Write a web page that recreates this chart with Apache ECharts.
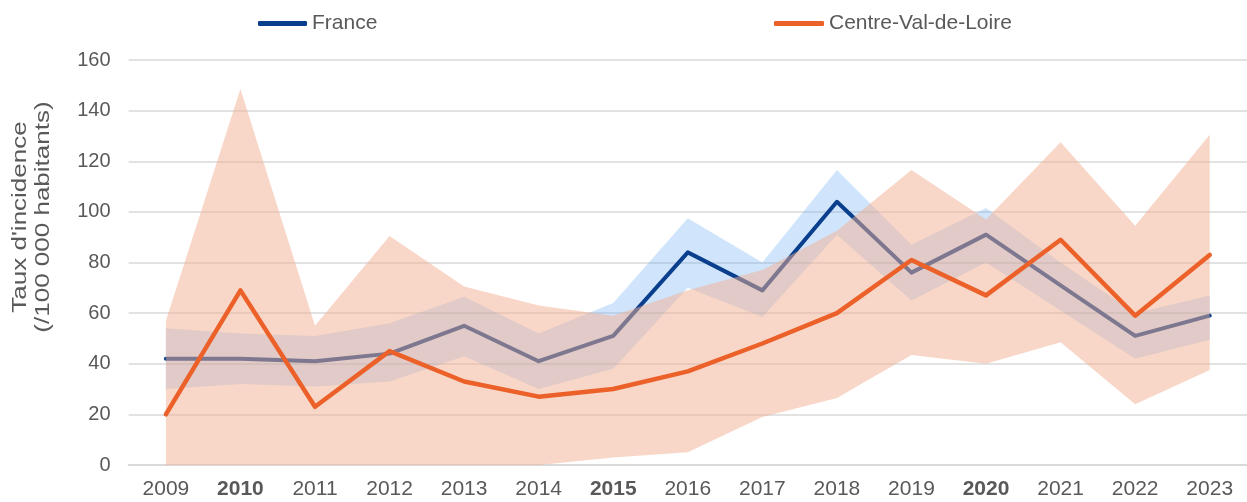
<!DOCTYPE html>
<html><head><meta charset="utf-8">
<script src="https://cdn.jsdelivr.net/npm/echarts@6/dist/echarts.min.js"></script>
<style>html,body{margin:0;padding:0;background:#fff}#c{width:1247px;height:502px}</style>
</head><body><div id="c"></div>
<script>
const years = ['2009','2010','2011','2012','2013','2014','2015','2016','2017','2018','2019','2020','2021','2022','2023'];
const boldYears = ['2010','2015','2020'];
const franceRate = [42, 42, 41, 44, 55, 41, 51, 84, 69, 104, 76, 91, 71, 51, 59];
const franceLow  = [30, 32, 31, 33, 43, 30, 38, 70, 58.5, 91, 65, 80, 61, 42, 49.5];
const franceHigh = [54, 52, 51, 56, 66.5, 52, 64, 97.5, 80, 116.5, 87, 101.5, 80, 60, 67];
const cvlRate = [20, 69, 23, 45, 33, 27, 30, 37, 48, 60, 81, 67, 89, 59, 83];
const cvlLow  = [0, 0, 0, 0, 0, 0, 3, 5, 19, 26.5, 43.5, 40, 48.5, 24, 37.5];
const cvlHigh = [57, 148.5, 55, 90.5, 70.5, 63, 59, 69, 77, 92.5, 116.5, 97, 127.5, 94.5, 130.5];
const yTicks = [0, 20, 40, 60, 80, 100, 120, 140, 160];

const diff = (hi, lo) => hi.map((v, i) => +(v - lo[i]).toFixed(2));
const FONT = 'Liberation Sans, Arial, sans-serif';
const TXT = '#595959';
const NAVY = '#0A3F8E';
const ORANGE = '#EC6129';

const chart = echarts.init(document.getElementById('c'));
chart.setOption({
  animation: false,
  textStyle: { fontFamily: FONT, color: TXT },
  legend: [
    { data: ['France'], left: 258, top: 13, padding: 0, icon: 'roundRect', itemWidth: 49, itemHeight: 5,
      textStyle: { fontSize: 21, color: TXT, fontFamily: FONT } },
    { data: ['Centre-Val-de-Loire'], left: 774, top: 13, padding: 0, icon: 'roundRect', itemWidth: 50, itemHeight: 5,
      textStyle: { fontSize: 21, color: TXT, fontFamily: FONT } }
  ],
  grid: { left: 128.6, right: -3, top: 60, bottom: 37, containLabel: false },
  xAxis: {
    type: 'category', data: years, boundaryGap: true,
    axisTick: { show: false },
    axisLine: { lineStyle: { color: '#d9d9d9', width: 2 } },
    axisLabel: {
      interval: 0, hideOverlap: false,
      margin: 14, fontSize: 21, color: TXT, fontFamily: FONT,
      formatter: v => boldYears.includes(v) ? '{b|' + v + '}' : v,
      rich: { b: { fontWeight: 'bold', fontSize: 21, color: TXT, fontFamily: FONT } }
    }
  },
  yAxis: {
    type: 'value', min: yTicks[0], max: yTicks[yTicks.length - 1], interval: 20,
    axisLine: { show: false }, axisTick: { show: false },
    axisLabel: { margin: 18, fontSize: 20, color: TXT, fontFamily: FONT },
    splitLine: { lineStyle: { color: '#d9d9d9', width: 1.5 } }
  },
  graphic: [{
    type: 'text', x: 32, y: 217, rotation: Math.PI / 2, scaleX: 1.3,
    style: { text: "Taux d'incidence\n(/100 000 habitants)", fontSize: 20, fontFamily: FONT,
      fill: TXT, textAlign: 'center', textVerticalAlign: 'middle', lineHeight: 23 }
  }],
  series: [
    { name: 'frLow', type: 'line', stack: 'fr', data: franceLow, symbol: 'none', z: 2,
      lineStyle: { opacity: 0 }, silent: true },
    { name: 'frBand', type: 'line', stack: 'fr', data: diff(franceHigh, franceLow), symbol: 'none', z: 2,
      lineStyle: { opacity: 0 }, areaStyle: { color: 'rgba(100,170,245,0.3)', opacity: 1 }, silent: true },
    { name: 'France', type: 'line', data: franceRate, symbol: 'none', z: 3,
      itemStyle: { color: NAVY },
      lineStyle: { color: NAVY, width: 4, cap: 'round', join: 'round' } },
    { name: 'cvlLow', type: 'line', stack: 'cvl', data: cvlLow, symbol: 'none', z: 4,
      lineStyle: { opacity: 0 }, silent: true },
    { name: 'cvlBand', type: 'line', stack: 'cvl', data: diff(cvlHigh, cvlLow), symbol: 'none', z: 4,
      lineStyle: { opacity: 0 }, areaStyle: { color: 'rgba(241,176,146,0.5)', opacity: 1 }, silent: true },
    { name: 'Centre-Val-de-Loire', type: 'line', data: cvlRate, symbol: 'none', z: 5,
      itemStyle: { color: ORANGE },
      lineStyle: { color: ORANGE, width: 4.5, cap: 'round', join: 'round' } }
  ]
});
</script></body></html>
